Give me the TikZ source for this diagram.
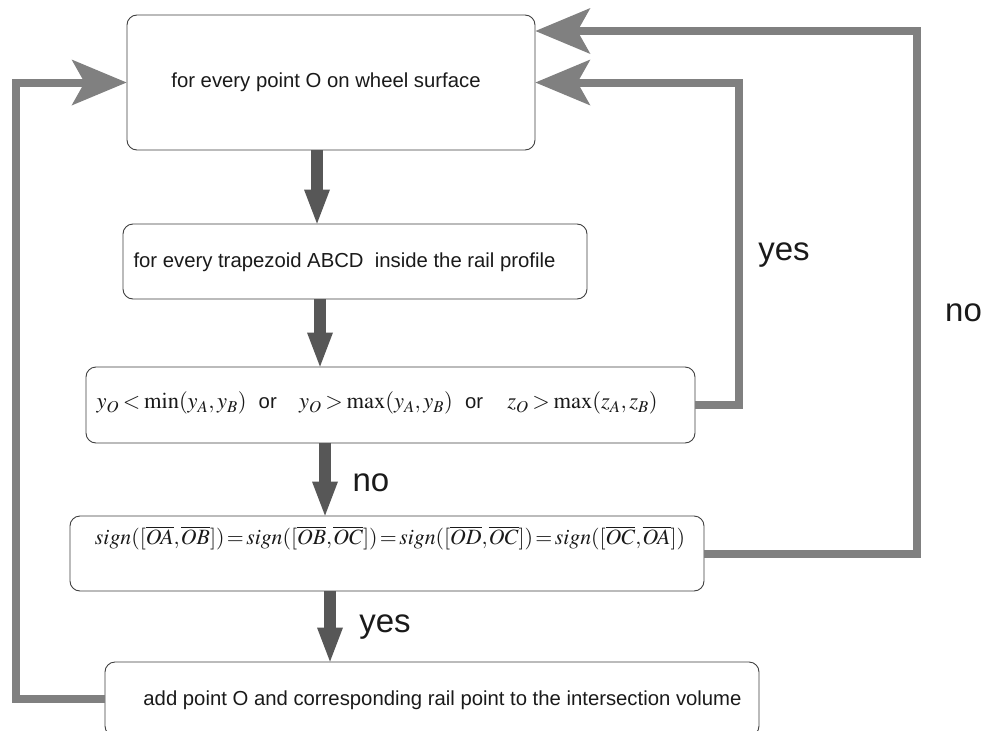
\documentclass[tikz,border=0pt]{standalone}
\usepackage{mathptmx}
\usepackage{fontspec}
\setmainfont{Liberation Sans}
\usetikzlibrary{arrows.meta,calc}
\definecolor{fbgray}{HTML}{808080}
\definecolor{dkgray}{HTML}{575757}
\definecolor{boxline}{HTML}{404040}
\definecolor{txtcol}{HTML}{1A1A1A}
\newcommand{\bigmath}[1]{{\fontsize{22.5}{26}\selectfont$#1$}}
\begin{document}
\begin{tikzpicture}[x=1pt,y=-1pt,
  box/.style={draw=boxline, line width=0.9pt, rounded corners=10pt, fill=white, inner sep=0pt},
  txt/.style={font=\fontsize{20.3}{24}\selectfont, text=txtcol, inner sep=0pt},
  lbl/.style={font=\fontsize{33}{40}\selectfont, text=txtcol, inner sep=0pt},
  darr/.style={line width=12pt, draw=dkgray, -{Triangle[length=34pt,width=26pt,line width=0pt]}},
  fback/.style={line width=8pt, draw=fbgray, line join=miter, -{Stealth[length=55pt,width=46pt,inset=13pt,line width=0pt]}}]
\clip (0,0) rectangle (986,731);
\fill[white] (0,0) rectangle (986,731);
% boxes
\node[box, minimum width=408pt, minimum height=135pt] (b1) at (331,82.5) {};
\node[box, minimum width=464pt, minimum height=75pt] (b2) at (355,261.5) {};
\node[box, minimum width=609pt, minimum height=76pt] (b3) at (390.5,405) {};
\node[box, minimum width=634pt, minimum height=75pt] (b4) at (387,553.5) {};
\node[box, minimum width=654pt, minimum height=74pt] (b5) at (432,699) {};
% texts
\node[txt] (t1) at ($(b1.center)+(-5,0)$) {for every point O on wheel surface};
\node[txt] (t2) at ($(b2.center)+(-10.5,1)$) {for every trapezoid ABCD\ \ inside the rail profile};
\node[txt] (t3) at ($(b3.center)+(-13.5,-2)$) {\thickmuskip=3mu\bigmath{y_O<\min(y_A,y_B)}\hspace{0.6em}or\hspace{1.1em}\bigmath{y_O>\max(y_A,y_B)}\hspace{0.6em}or\hspace{1.2em}\bigmath{z_O>\max(z_A,z_B)}};
\node[txt] (t4) at ($(b4.center)+(3,-15.5)$) {\fontsize{21.8}{26}\selectfont\thickmuskip=2mu\thinmuskip=1mu$\mathit{sign}([\overline{OA},\overline{OB}])=\mathit{sign}([\overline{OB},\overline{OC}])=\mathit{sign}([\overline{OD},\overline{OC}])=\mathit{sign}([\overline{OC},\overline{OA}])$};
\node[txt] (t5) at ($(b5.center)+(10.5,1)$) {add point O and corresponding rail point to the intersection volume};
% helper coordinates
\coordinate (xa1) at (317,0);
\coordinate (xa2) at (320,0);
\coordinate (xa3) at (325,0);
\coordinate (xa4) at (330,0);
\coordinate (yx) at (739,0);
\coordinate (nx) at (917,0);
\coordinate (ny) at (0,31);
\coordinate (lx) at (16,0);
% main flow arrows
\draw[darr] (b1.south -| xa1) -- (b2.north -| xa1);
\draw[darr] (b2.south -| xa2) -- (b3.north -| xa2);
\draw[darr] (b3.south -| xa3) -- (b4.north -| xa3);
\draw[darr] (b4.south -| xa4) -- (b5.north -| xa4);
% feedback arrows
\draw[fback] (b3.east) -- (b3.east -| yx) -- (b1.east -| yx) -- (b1.east);
\draw[fback] (b4.east) -- (b4.east -| nx) -- (nx |- ny) -- (b1.east |- ny);
\draw[fback] (b5.west) -- (b5.west -| lx) -- (lx |- b1.west) -- (b1.west);
% labels
\node[lbl] (l1) at (371,483) {no};
\node[lbl] (l2) at (385,627) {yes};
\node[lbl] (l3) at (784,255) {yes};
\node[lbl] (l4) at (963.5,313) {no};
\end{tikzpicture}
\end{document}
